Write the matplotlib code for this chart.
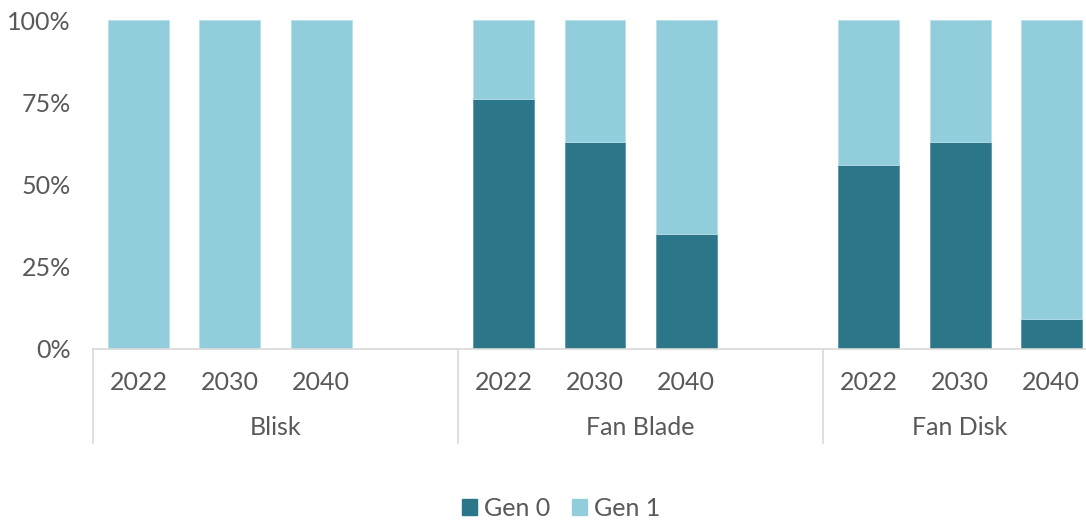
import matplotlib
matplotlib.use("Agg")
import matplotlib.pyplot as plt
from matplotlib.ticker import PercentFormatter
from matplotlib.patches import Patch

plt.rcParams['font.family'] = ['Lato', 'DejaVu Sans']

groups = ['Blisk', 'Fan Blade', 'Fan Disk']
years = ['2022', '2030', '2040']
gen0 = [0, 0, 0, 76, 63, 35, 56, 63, 9]
gen1 = [100 - v for v in gen0]

DARK = '#2c7689'
LIGHT = '#92cddc'
GREY = '#595959'
LINE = '#d9d9d9'

# three bars per group, one empty slot between groups
xs = []
for g in range(len(groups)):
    for k in range(len(years)):
        xs.append(g * 4 + k)

fig = plt.figure(figsize=(10.86, 5.22), dpi=100)
ax = fig.add_axes([93 / 1086, 1 - 349 / 522, 1004 / 1086, 329 / 522])

w = 0.668
ax.bar(xs, gen0, width=w, color=DARK, edgecolor='#5a98a8', linewidth=0.6, label='Gen 0')
ax.bar(xs, gen1, width=w, bottom=gen0, color=LIGHT, edgecolor='#b8e0ea', linewidth=0.6, label='Gen 1')

ax.set_xlim(-0.5, 10.5)
ax.set_ylim(0, 100)
ax.set_yticks([0, 25, 50, 75, 100])
ax.yaxis.set_major_formatter(PercentFormatter(decimals=0))
ax.tick_params(axis='y', length=0, pad=16, labelsize=18, labelcolor=GREY)

ax.set_xticks(xs)
ax.set_xticklabels(years * len(groups))
ax.tick_params(axis='x', length=0, pad=16, labelsize=18, labelcolor=GREY)

for s in ['top', 'right', 'left']:
    ax.spines[s].set_visible(False)
ax.spines['bottom'].set_color(LINE)
ax.spines['bottom'].set_linewidth(1.2)

# group labels and separators under the axis
trans = ax.get_xaxis_transform()
for g, name in enumerate(groups):
    lo = g * 4 - 0.5
    hi = min(g * 4 + 3.5, 10.5)
    ax.text((lo + hi) / 2, -0.24, name, transform=trans, ha='center', va='center',
            fontsize=18, color=GREY)
    ax.plot([lo, lo], [0, -0.286], transform=trans, color=LINE, lw=1.2,
            clip_on=False)

handles = [Patch(color=DARK, label='Gen 0'), Patch(color=LIGHT, label='Gen 1')]
fig.legend(handles=handles, loc='center', bbox_to_anchor=(561 / 1086, 1 - 508 / 522),
           ncol=2, frameon=False, fontsize=18, labelcolor=GREY,
           handlelength=0.6, handleheight=0.6, handletextpad=0.25, columnspacing=0.9)

fig.savefig('out.png', dpi=100)
